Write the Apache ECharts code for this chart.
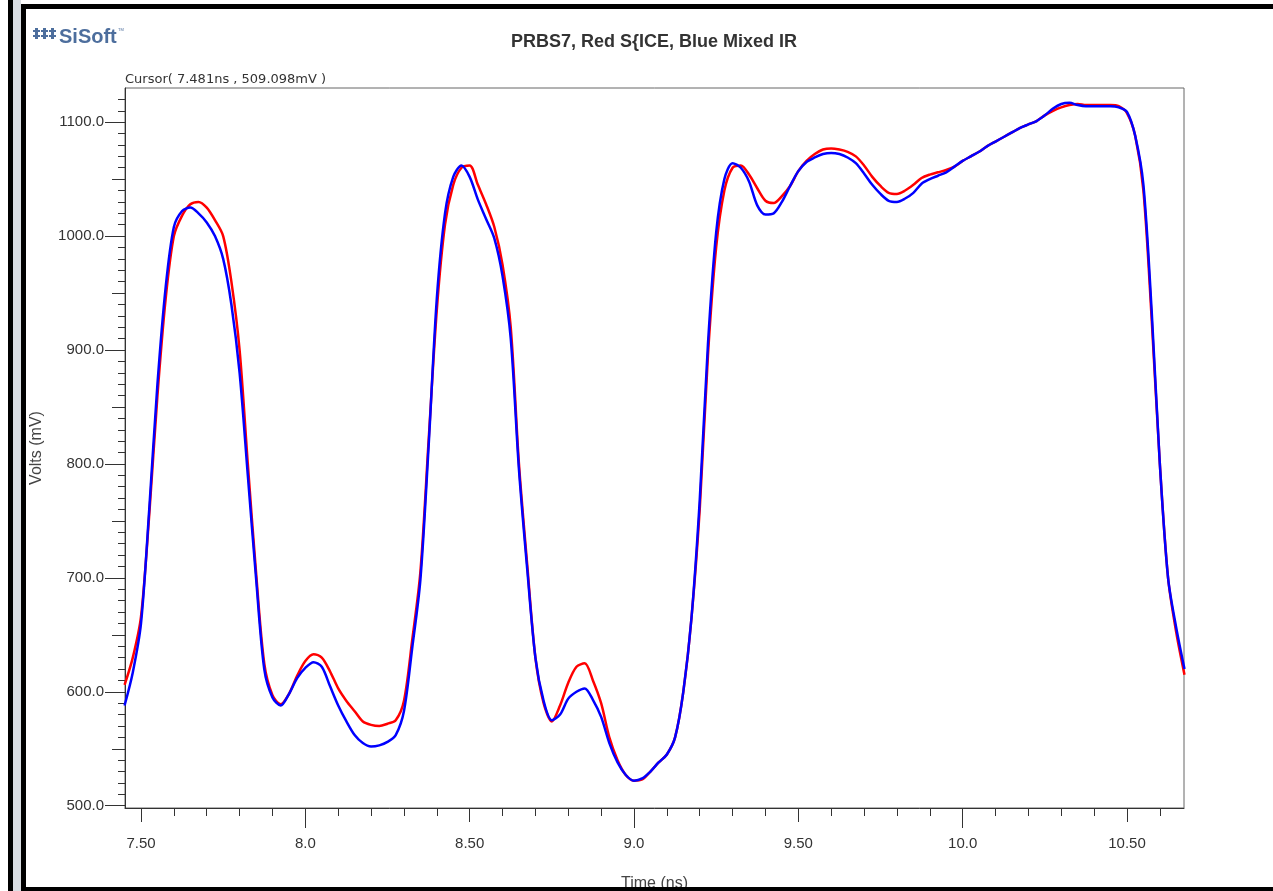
<!DOCTYPE html>
<html>
<head>
<meta charset="utf-8">
<title>PRBS7, Red S{ICE, Blue Mixed IR</title>
<script src="https://cdn.jsdelivr.net/npm/echarts@6/dist/echarts.min.js"></script>
<style>
  html, body { margin: 0; padding: 0; background: #fff; }
  #chart { width: 1273px; height: 891px; }
</style>
</head>
<body>
<div id="chart"></div>
<script>
// 时间轴 (ns)
const timeNs = [
  7.45, 7.475, 7.5, 7.525, 7.55, 7.575, 7.6, 7.625, 7.65, 7.675,
  7.7, 7.725, 7.75, 7.775, 7.8, 7.825, 7.85, 7.875, 7.9, 7.925,
  7.95, 7.975, 8.0, 8.025, 8.05, 8.075, 8.1, 8.125, 8.15, 8.175,
  8.2, 8.225, 8.25, 8.275, 8.3, 8.325, 8.35, 8.375, 8.4, 8.425,
  8.45, 8.475, 8.5, 8.525, 8.55, 8.575, 8.6, 8.625, 8.65, 8.675,
  8.7, 8.725, 8.75, 8.775, 8.8, 8.825, 8.85, 8.875, 8.9, 8.925,
  8.95, 8.975, 9.0, 9.025, 9.05, 9.075, 9.1, 9.125, 9.15, 9.175,
  9.2, 9.225, 9.25, 9.275, 9.3, 9.325, 9.35, 9.375, 9.4, 9.425,
  9.45, 9.475, 9.5, 9.525, 9.55, 9.575, 9.6, 9.625, 9.65, 9.675,
  9.7, 9.725, 9.75, 9.775, 9.8, 9.825, 9.85, 9.875, 9.9, 9.925,
  9.95, 9.975, 10.0, 10.025, 10.05, 10.075, 10.1, 10.125, 10.15, 10.175,
  10.2, 10.225, 10.25, 10.275, 10.3, 10.325, 10.35, 10.375, 10.4, 10.425,
  10.45, 10.475, 10.5, 10.525, 10.55, 10.575, 10.6, 10.625, 10.65, 10.675
]

// 红色: SPICE (mV)
const spiceMv = [
  606, 630, 666, 755, 860, 945, 1000, 1018, 1028, 1030,
  1025, 1014, 1000, 960, 900, 800, 705, 625, 597, 589,
  598, 614, 627, 633, 630, 618, 603, 592, 583, 574,
  571, 570, 572, 575, 592, 645, 705, 820, 935, 1010,
  1045, 1060, 1062, 1045, 1028, 1008, 975, 920, 800, 712,
  630, 590, 574, 588, 608, 622, 625, 610, 590, 560,
  540, 527, 522, 523, 530, 538, 545, 560, 600, 665,
  760, 895, 990, 1040, 1060, 1062, 1054, 1042, 1031, 1029,
  1035, 1044, 1057, 1066, 1072, 1076, 1077, 1076, 1074, 1070,
  1062, 1052, 1044, 1038, 1037, 1040, 1045, 1051, 1054, 1056,
  1058, 1061, 1066, 1070, 1074, 1079, 1083, 1087, 1091, 1095,
  1098, 1101, 1106, 1110, 1113, 1115, 1116, 1115, 1115, 1115,
  1115, 1114, 1108, 1088, 1040, 928, 800, 700, 652, 615
]

// 蓝色: Mixed IR (mV)
const mixedIrMv = [
  588, 617, 660, 760, 870, 955, 1008, 1022, 1025, 1020,
  1012, 1000, 980, 940, 880, 790, 700, 620, 595, 588,
  598, 612, 621, 626, 622, 605, 588, 574, 562, 555,
  552, 553, 556, 562, 583, 638, 698, 815, 945, 1020,
  1052, 1062, 1052, 1032, 1015, 998, 965, 910, 795, 708,
  630, 592, 575, 580, 594, 600, 603, 593, 578, 555,
  538, 527, 522, 524, 530, 538, 545, 560, 600, 665,
  768, 905, 1003, 1050, 1064, 1060, 1048, 1027, 1019, 1020,
  1030, 1044, 1057, 1065, 1069, 1072, 1073, 1072, 1069, 1064,
  1055, 1045, 1037, 1031, 1030, 1033, 1038, 1046, 1050, 1053,
  1056, 1061, 1066, 1070, 1074, 1079, 1083, 1087, 1091, 1095,
  1098, 1101, 1106, 1112, 1116, 1117, 1115, 1114, 1114, 1114,
  1114, 1113, 1109, 1088, 1045, 935, 800, 700, 656, 620
]

// 刻度标签
const xLabelValues = [7.5, 8.0, 8.5, 9.0, 9.5, 10.0, 10.5]
const xLabels = ['7.50', '8.0', '8.50', '9.0', '9.50', '10.0', '10.50']
const xHalfTicks = [7.5, 8.5, 9.5, 10.5]
const xWholeTicks = [8.0, 9.0, 10.0]
const xMinorTicks = [7.5, 7.6, 7.7, 7.8, 7.9, 8.0, 8.1, 8.2, 8.3, 8.4, 8.5, 8.6, 8.7, 8.8, 8.9,
  9.0, 9.1, 9.2, 9.3, 9.4, 9.5, 9.6, 9.7, 9.8, 9.9, 10.0, 10.1, 10.2, 10.3, 10.4, 10.5, 10.6]
const yLabelValues = [500, 600, 700, 800, 900, 1000, 1100]
const yHalfTicks = [550, 650, 750, 850, 950, 1050]
const yMinorTicks = []
for (let v = 500; v <= 1120; v += 10) yMinorTicks.push(v)

const X_MIN = 7.4513
const X_MAX = 10.6735
const Y_MIN = 498
const Y_MAX = 1130

const FONT = 'Liberation Sans, Arial, sans-serif'
const AXIS_COLOR = '#333'

function xAxisOf(ticks, len, extra) {
  return Object.assign({
    type: 'value',
    position: 'bottom',
    min: X_MIN,
    max: X_MAX,
    axisLine: {show: false},
    axisTick: {show: true, length: len, customValues: ticks, lineStyle: {color: AXIS_COLOR, width: 1}},
    axisLabel: {show: false},
    splitLine: {show: false}
  }, extra || {})
}

function yAxisOf(ticks, len, extra) {
  return Object.assign({
    type: 'value',
    position: 'left',
    min: Y_MIN,
    max: Y_MAX,
    axisLine: {show: false},
    axisTick: {show: true, length: len, customValues: ticks, lineStyle: {color: AXIS_COLOR, width: 1}},
    axisLabel: {show: false},
    splitLine: {show: false}
  }, extra || {})
}

const chart = echarts.init(document.getElementById('chart'))

const option = {
  animation: false,
  backgroundColor: '#fff',
  title: {
    text: 'PRBS7, Red S{ICE, Blue Mixed IR',
    left: 649,
    top: 28,
    textAlign: 'center',
    textStyle: {fontFamily: FONT, fontSize: 18, fontWeight: 'bold', color: '#333'}
  },
  grid: {
    left: 125,
    top: 88,
    width: 1059,
    height: 720,
    // 不让 v6 自动收缩网格
    outerBoundsMode: 'none',
    containLabel: false,
    show: true,
    borderColor: '#666',
    borderWidth: 1,
    backgroundColor: '#fff'
  },
  xAxis: [
    xAxisOf(xHalfTicks, 14, {
      axisLine: {show: true, lineStyle: {color: AXIS_COLOR, width: 1}},
      axisLabel: {
        show: true,
        customValues: xLabelValues,
        margin: 28,
        color: '#333',
        fontSize: 15,
        fontFamily: FONT,
        formatter: function (v) {
          for (let i = 0; i < xLabelValues.length; i++) {
            if (Math.abs(xLabelValues[i] - v) < 1e-6) return xLabels[i]
          }
          return ''
        }
      },
      name: 'Time (ns)',
      nameLocation: 'middle',
      nameGap: 68,
      nameTextStyle: {color: '#444', fontSize: 16, fontFamily: FONT}
    }),
    xAxisOf(xWholeTicks, 20),
    xAxisOf(xMinorTicks, 8)
  ],
  yAxis: [
    yAxisOf(yLabelValues, 20, {
      axisLine: {show: true, lineStyle: {color: AXIS_COLOR, width: 1}},
      axisLabel: {
        show: true,
        customValues: yLabelValues,
        margin: 21,
        color: '#333',
        fontSize: 15,
        fontFamily: FONT,
        formatter: v => v.toFixed(1)
      },
      name: 'Volts (mV)',
      nameLocation: 'middle',
      nameRotate: 90,
      nameGap: 80,
      nameTextStyle: {color: '#444', fontSize: 16, fontFamily: FONT}
    }),
    yAxisOf(yHalfTicks, 13),
    yAxisOf(yMinorTicks, 7)
  ],
  series: [
    {
      name: 'SPICE',
      type: 'line',
      data: timeNs.map((t, i) => [t, spiceMv[i]]),
      smooth: 0.3,
      showSymbol: false,
      clip: true,
      lineStyle: {color: '#ff0000', width: 2.5},
      itemStyle: {color: '#ff0000'},
      z: 2
    },
    {
      name: 'Mixed IR',
      type: 'line',
      data: timeNs.map((t, i) => [t, mixedIrMv[i]]),
      smooth: 0.3,
      showSymbol: false,
      clip: true,
      lineStyle: {color: '#0000ff', width: 2.5},
      itemStyle: {color: '#0000ff'},
      z: 3
    }
  ],
  graphic: [
    // 光标读数
    {
      type: 'text', left: 125, top: 73,
      style: {text: 'Cursor( 7.481ns , 509.098mV )', fill: '#333', font: '13px DejaVu Sans, sans-serif'}
    },
    // SiSoft 标志
    {
      type: 'group', left: 33, top: 28,
      children: [0, 1, 2].map(c => ({
        type: 'group', x: c * 8,
        children: [
          {type: 'rect', shape: {x: 2, y: 0, width: 3, height: 11}, style: {fill: '#4d6e9d'}},
          {type: 'rect', shape: {x: 0, y: 2, width: 7, height: 2}, style: {fill: '#4d6e9d'}},
          {type: 'rect', shape: {x: 0, y: 7, width: 7, height: 2}, style: {fill: '#4d6e9d'}}
        ]
      }))
    },
    {
      type: 'text', left: 59, top: 27,
      style: {text: 'SiSoft', fill: '#4d6e9d', font: 'bold 20px ' + FONT}
    },
    {
      type: 'text', left: 118, top: 28,
      style: {text: 'TM', fill: '#4d6e9d', font: '4px ' + FONT}
    },
    // 外框
    {type: 'rect', z: 100, shape: {x: 8, y: 0, width: 5, height: 891}, style: {fill: '#000'}},
    {type: 'rect', z: 100, shape: {x: 13, y: 0, width: 8, height: 891}, style: {fill: '#d9dde2'}},
    {type: 'rect', z: 100, shape: {x: 21, y: 4, width: 5, height: 887}, style: {fill: '#000'}},
    {type: 'rect', z: 100, shape: {x: 21, y: 4, width: 1252, height: 5}, style: {fill: '#000'}},
    {type: 'rect', z: 100, shape: {x: 21, y: 887, width: 1252, height: 4}, style: {fill: '#000'}}
  ]
}

chart.setOption(option)
</script>
</body>
</html>
